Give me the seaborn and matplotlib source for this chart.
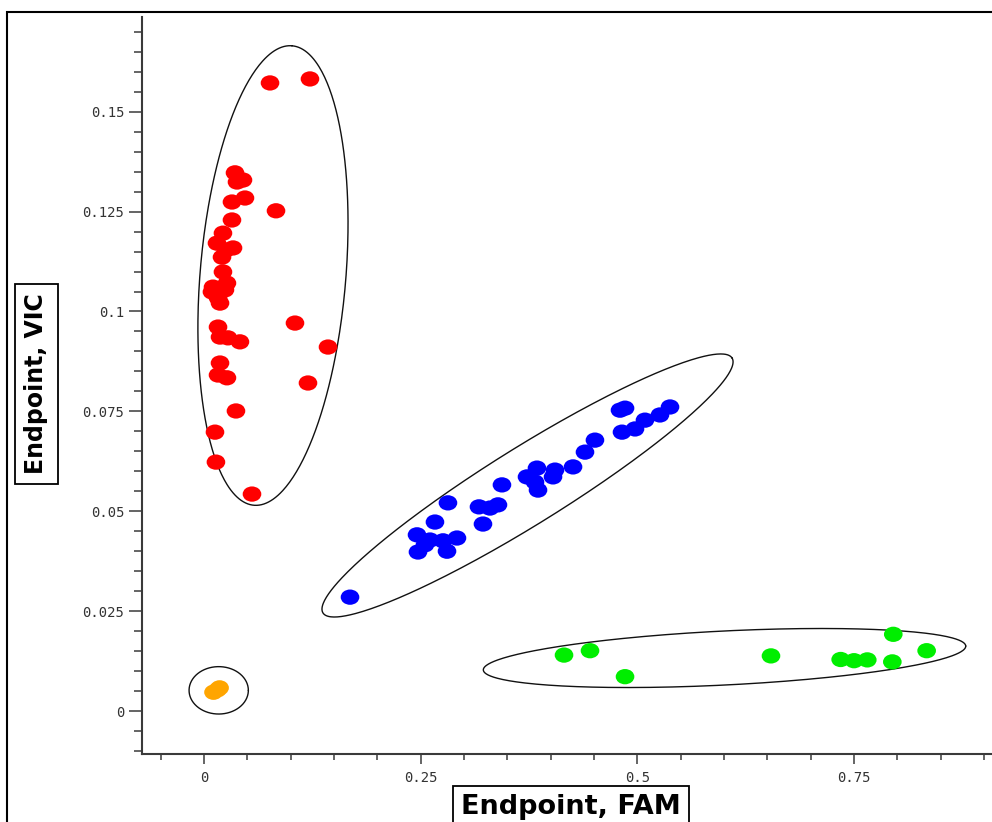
import numpy as np
import pandas as pd
import seaborn as sns
import matplotlib
matplotlib.use("Agg")
import matplotlib.pyplot as plt
from matplotlib.path import Path
from matplotlib.transforms import Affine2D
from matplotlib.patches import Rectangle
from matplotlib.ticker import FixedLocator, FixedFormatter, MultipleLocator

# Endpoint fluorescence per well, grouped by genotype call
red_fam = [0.0762, 0.1223, 0.0358, 0.0381, 0.0450, 0.0323, 0.0473, 0.0323, 0.0831,
           0.0219, 0.0150, 0.0335, 0.0254, 0.0208, 0.0219, 0.0104, 0.0242, 0.0162,
           0.0185, 0.1050, 0.0162, 0.0185, 0.0277, 0.0415, 0.1431, 0.0185, 0.0162,
           0.0265, 0.1200, 0.0369, 0.0127, 0.0138, 0.0554, 0.0265, 0.0092]
red_vic = [0.1572, 0.1582, 0.1347, 0.1324, 0.1329, 0.1274, 0.1284, 0.1229, 0.1252,
           0.1196, 0.1171, 0.1159, 0.1154, 0.1136, 0.1099, 0.1061, 0.1054, 0.1034,
           0.1021, 0.0971, 0.0961, 0.0936, 0.0934, 0.0924, 0.0911, 0.0871, 0.0841,
           0.0834, 0.0821, 0.0751, 0.0698, 0.0623, 0.0543, 0.1071, 0.1049]

blue_fam = [0.1685, 0.2469, 0.2458, 0.2608, 0.2804, 0.2919, 0.2758, 0.2665, 0.2815,
            0.3219, 0.3173, 0.3392, 0.3300, 0.3438, 0.3727, 0.3842, 0.3854, 0.3819,
            0.4050, 0.4027, 0.4258, 0.4396, 0.4511, 0.4823, 0.4973, 0.4858, 0.4800,
            0.5088, 0.5261, 0.5377, 0.2550]
blue_vic = [0.0285, 0.0398, 0.0441, 0.0428, 0.0400, 0.0433, 0.0426, 0.0473, 0.0521,
            0.0468, 0.0511, 0.0516, 0.0508, 0.0566, 0.0586, 0.0608, 0.0553, 0.0573,
            0.0603, 0.0586, 0.0611, 0.0648, 0.0678, 0.0698, 0.0706, 0.0758, 0.0753,
            0.0728, 0.0741, 0.0761, 0.0416]

green_fam = [0.4154, 0.4454, 0.4858, 0.6542, 0.7346, 0.7500, 0.7653, 0.7942, 0.7953, 0.8338]
green_vic = [0.0140, 0.0151, 0.0086, 0.0138, 0.0129, 0.0126, 0.0128, 0.0123, 0.0192, 0.0151]

orange_fam = [0.0110, 0.0155, 0.0180]
orange_vic = [0.0047, 0.0053, 0.0058]

cluster_names = ["red", "blue", "green", "orange"]
cluster_colors = ["#ff0000", "#0000ff", "#00ee00", "#ffa500"]

# Cluster boundary ellipses: centre plus two conjugate semi-axes (data units)
ellipse_center_fam = [0.0796, 0.3733, 0.6006, 0.0170]
ellipse_center_vic = [0.1090, 0.05645, 0.01327, 0.00518]
ellipse_major_fam = [0.0219, 0.2360, 0.2783, 0.0342]
ellipse_major_vic = [0.0575, 0.0319, 0.0030, 0.0]
ellipse_minor_fam = [0.0838, 0.0234, 0.00155, 0.0]
ellipse_minor_vic = [-0.0015, -0.00813, -0.00675, 0.00593]

y_major_ticks = [0, 0.025, 0.05, 0.075, 0.1, 0.125, 0.15]
y_tick_labels = ["0", "0.025", "0.05", "0.075", "0.1", "0.125", "0.15"]
x_major_ticks = [0, 0.25, 0.5, 0.75]
x_tick_labels = ["0", "0.25", "0.5", "0.75"]

x_label = "Endpoint, FAM"
y_label = "Endpoint, VIC"

df = pd.concat([
    pd.DataFrame({"FAM": red_fam, "VIC": red_vic, "cluster": "red"}),
    pd.DataFrame({"FAM": blue_fam, "VIC": blue_vic, "cluster": "blue"}),
    pd.DataFrame({"FAM": green_fam, "VIC": green_vic, "cluster": "green"}),
    pd.DataFrame({"FAM": orange_fam, "VIC": orange_vic, "cluster": "orange"}),
], ignore_index=True)

sns.set_style("white")
plt.rcParams["font.family"] = ["DejaVu Sans"]

fig = plt.figure(figsize=(9.92, 8.22), dpi=100)
ax = fig.add_axes([0.1428, 0.0827, 0.8572, 0.8966])

# slightly flattened round marker
dot = Path.unit_circle().transformed(Affine2D().scale(1.0, 0.82))

sns.scatterplot(data=df, x="FAM", y="VIC", hue="cluster",
                hue_order=cluster_names,
                palette=dict(zip(cluster_names, cluster_colors)),
                marker=dot, s=180, linewidth=0, legend=False, ax=ax, zorder=3)

t = np.linspace(0, 2 * np.pi, 400)
for cx, cy, mx, my, nx, ny in zip(ellipse_center_fam, ellipse_center_vic,
                                  ellipse_major_fam, ellipse_major_vic,
                                  ellipse_minor_fam, ellipse_minor_vic):
    ax.plot(cx + mx * np.cos(t) + nx * np.sin(t),
            cy + my * np.cos(t) + ny * np.sin(t),
            color="#111111", lw=1.0, zorder=2)

ax.set_xlim(-0.0719, 0.9092)
ax.set_ylim(-0.01076, 0.1737)

for side in ["top", "right"]:
    ax.spines[side].set_visible(False)
for side in ["left", "bottom"]:
    ax.spines[side].set_color("#3a3a3a")
    ax.spines[side].set_linewidth(1.5)

ax.xaxis.set_major_locator(FixedLocator(x_major_ticks))
ax.xaxis.set_major_formatter(FixedFormatter(x_tick_labels))
ax.xaxis.set_minor_locator(MultipleLocator(0.05))
ax.yaxis.set_major_locator(FixedLocator(y_major_ticks))
ax.yaxis.set_major_formatter(FixedFormatter(y_tick_labels))
ax.yaxis.set_minor_locator(MultipleLocator(0.005))

ax.tick_params(axis="both", which="both", direction="out", color="#3a3a3a",
               width=1.1, labelcolor="#333333", bottom=True, left=True)
ax.tick_params(axis="x", which="major", length=7.5, pad=5)
ax.tick_params(axis="x", which="minor", length=4.5)
ax.tick_params(axis="y", which="major", length=9.5, pad=3)
ax.tick_params(axis="y", which="minor", length=6)
for lab in ax.get_xticklabels() + ax.get_yticklabels():
    lab.set_fontfamily("DejaVu Sans Mono")
    lab.set_fontsize(10)

ax.set_xlabel(x_label, fontsize=19.5, fontweight="bold", color="black",
              bbox=dict(boxstyle="square,pad=0.3", fc="white", ec="black", lw=1.3))
ax.xaxis.label.set_va("baseline")
ax.xaxis.set_label_coords(0.5049, -0.0814)

ax.set_ylabel(y_label, fontsize=17, fontweight="bold", color="black",
              bbox=dict(boxstyle="square,pad=0.4", fc="white", ec="black", lw=1.3))
ax.yaxis.label.set_va("center")
ax.yaxis.set_label_coords(-0.1237, 0.502)

# outer panel frame
fig.patches.append(Rectangle((7 / 992, -0.2), 1.2, 1.2 - 12 / 822,
                             transform=fig.transFigure, fill=False,
                             ec="black", lw=1.5, zorder=0))

fig.savefig("out.png", dpi=100, facecolor="white")
